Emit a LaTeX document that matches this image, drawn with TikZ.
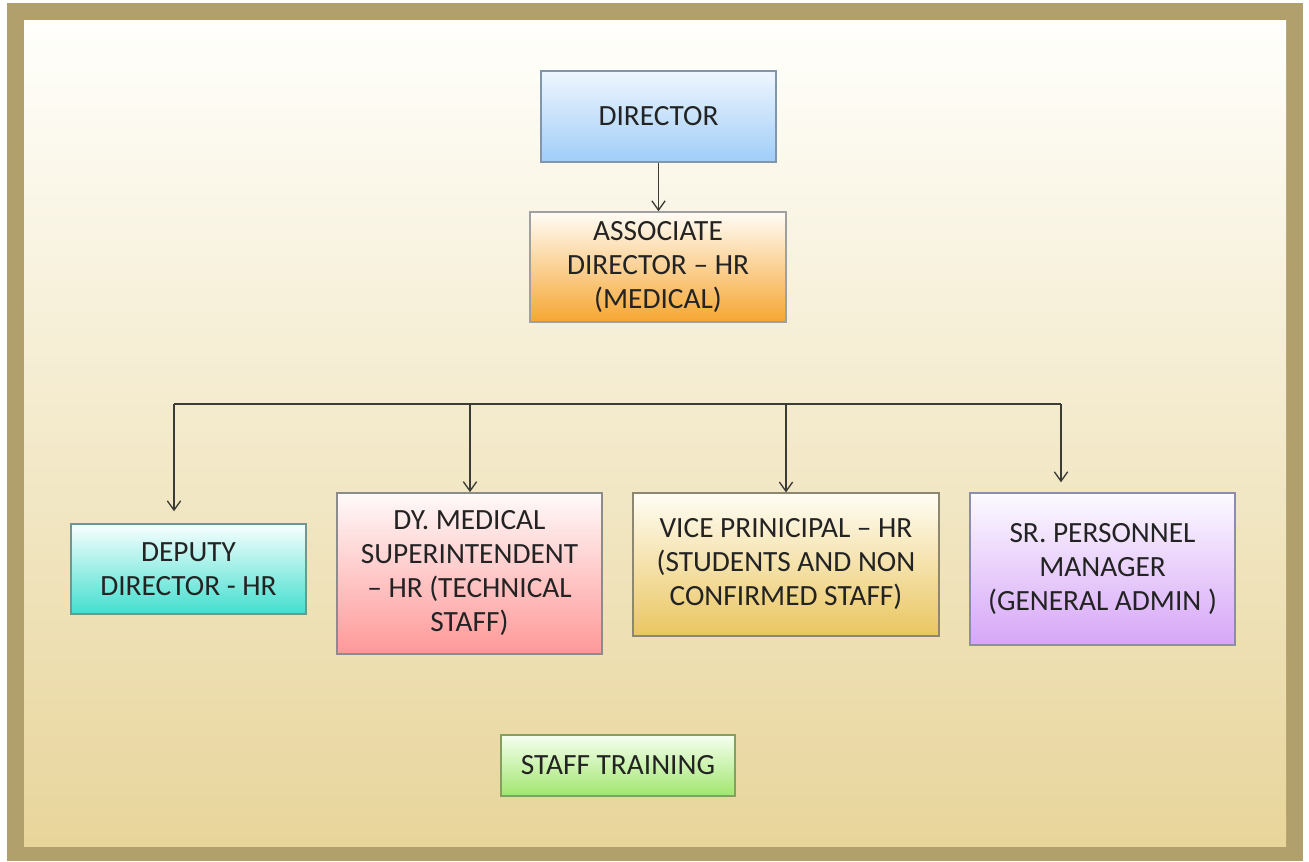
\documentclass[tikz,border=0pt]{standalone}
\usepackage{fontspec}
\setmainfont{Carlito}
\usetikzlibrary{arrows.meta}
\definecolor{frame}{RGB}{177,160,108}
\definecolor{bgtop}{RGB}{255,255,252}
\definecolor{bgbot}{RGB}{232,213,155}
\definecolor{txt}{RGB}{35,35,35}
\definecolor{lineC}{RGB}{60,60,55}
\tikzset{
  box/.style={rectangle, inner sep=0pt, align=center, line width=1.1pt, text=txt,
    font=\fontsize{22}{25.5}\selectfont},
  arr/.style={draw=lineC, line width=1pt, -{Straight Barb[length=7pt,width=10pt]}},
  bus/.style={draw=lineC, line width=1pt},
}
\begin{document}
\begin{tikzpicture}[x=0.75pt,y=-0.75pt]
\useasboundingbox (0,0) rectangle (1309,861);
\fill[white] (0,0) rectangle (1309,861);
\fill[frame] (7,3) rectangle (1303,861);
\shade[top color=bgtop, bottom color=bgbot] (24,20) rectangle (1286,846);

\node[box, draw={rgb,255:red,128;green,150;blue,174},
  top color={rgb,255:red,238;green,246;blue,255}, bottom color={rgb,255:red,160;green,205;blue,248},
  minimum width=176pt, minimum height=68pt] (dir) at (658.5,116.5) {DIRECTOR};
\node[box, draw={rgb,255:red,160;green,160;blue,160},
  top color={rgb,255:red,255;green,252;blue,246}, bottom color={rgb,255:red,246;green,166;blue,50},
  minimum width=192pt, minimum height=82.5pt] (assoc) at (658,267) {ASSOCIATE\\DIRECTOR -- HR\\(MEDICAL)};

\node[box, draw={rgb,255:red,110;green,150;blue,150},
  top color={rgb,255:red,248;green,255;blue,255}, bottom color={rgb,255:red,66;green,222;blue,206},
  minimum width=176pt, minimum height=67.5pt] (deputy) at (188.5,569) {DEPUTY\\DIRECTOR - HR};
\node[box, draw={rgb,255:red,140;green,140;blue,140},
  top color={rgb,255:red,255;green,250;blue,250}, bottom color={rgb,255:red,255;green,152;blue,152},
  minimum width=199pt, minimum height=121pt] (dym) at (469.5,573.5) {DY. MEDICAL\\SUPERINTENDENT\\-- HR (TECHNICAL\\STAFF)};
\node[box, draw={rgb,255:red,140;green,135;blue,110},
  top color={rgb,255:red,255;green,253;blue,245}, bottom color={rgb,255:red,234;green,198;blue,96},
  minimum width=229.5pt, minimum height=107pt] (vice) at (786,564.5) {VICE PRINICIPAL -- HR\\(STUDENTS AND NON\\CONFIRMED STAFF)};
\node[box, draw={rgb,255:red,140;green,140;blue,175},
  top color={rgb,255:red,252;green,250;blue,255}, bottom color={rgb,255:red,214;green,166;blue,247},
  minimum width=199pt, minimum height=114pt] (sr) at (1102.5,569) {SR. PERSONNEL\\MANAGER\\(GENERAL ADMIN )};

\node[box, draw={rgb,255:red,130;green,160;blue,96},
  top color={rgb,255:red,246;green,255;blue,240}, bottom color={rgb,255:red,160;green,230;blue,108},
  minimum width=175.5pt, minimum height=46pt] (staff) at (618,765.5) {STAFF TRAINING};

\draw[arr] (dir.south) -- (dir.south |- assoc.north);

\coordinate (b1) at (174,404);
\coordinate (b2) at (470,404);
\coordinate (b3) at (786,404);
\coordinate (b4) at (1061,404);
\draw[bus] (b1) -- (b4);
\draw[arr, shorten >=9pt] (b1) -- (b1 |- deputy.north);
\draw[arr] (b2) -- (b2 |- dym.north);
\draw[arr] (b3) -- (b3 |- vice.north);
\draw[arr, shorten >=7.5pt] (b4) -- (b4 |- sr.north);
\end{tikzpicture}
\end{document}
